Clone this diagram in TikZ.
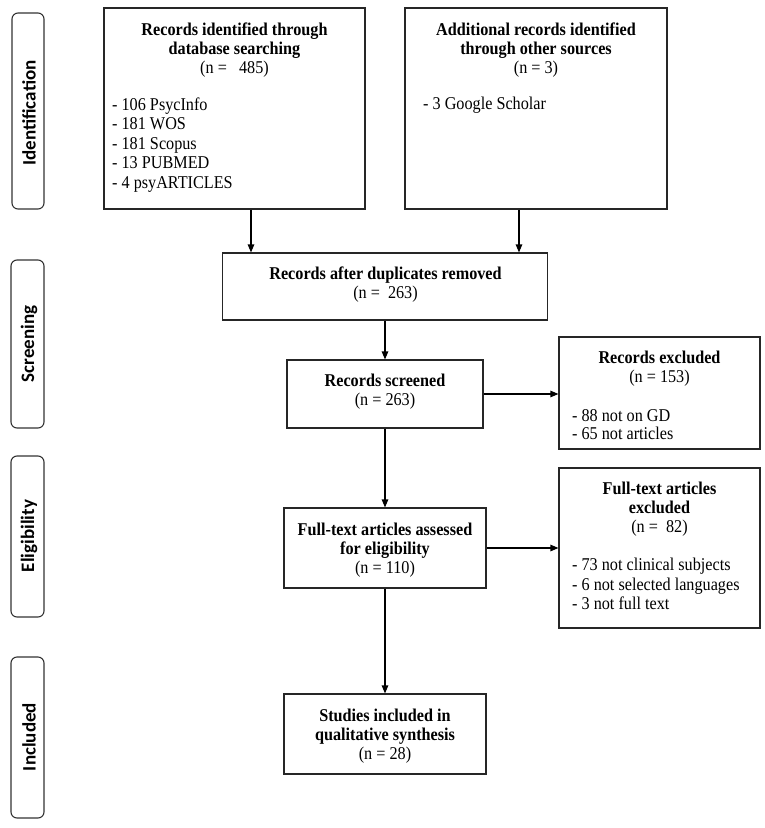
\documentclass[tikz,border=0pt]{standalone}
\usepackage{fontspec}
\setmainfont{Liberation Serif}[FakeStretch=0.9]
\newfontfamily\lanefont{Carlito}
\usetikzlibrary{arrows.meta}
\tikzset{
  box/.style={draw=black!85, line width=1.1pt, inner sep=0pt, rectangle},
  lane/.style={draw=black!80, line width=1.1pt, rounded corners=6pt},
  lanetext/.style={rotate=90, font=\lanefont\bfseries\fontsize{19}{22}\selectfont, inner sep=0pt},
  ttl/.style={align=center, inner sep=0pt, font=\fontsize{18}{19}\selectfont},
  lst/.style={align=left, anchor=west, inner sep=0pt, font=\fontsize{18}{19.5}\selectfont},
  arr/.style={draw=black, line width=1.1pt, -{Triangle[length=8pt,width=6.5pt]}}
}
\begin{document}
\begin{tikzpicture}[x=1pt,y=-1pt]
\useasboundingbox (0,0) rectangle (765,828);
\fill[white] (0,0) rectangle (765,828);
% lanes
\draw[lane] (12,13) rectangle (44,209);
\draw[lane] (11,260) rectangle (44,428);
\draw[lane] (11,456) rectangle (44,617);
\draw[lane] (11,657) rectangle (44,818);
\node[lanetext] (lid) at (29,113) {Identification};
\node[lanetext] (lsc) at (29,344) {Screening};
\node[lanetext] (lel) at (29,536) {Eligibility};
\node[lanetext] (lin) at (29,737) {Included};
% boxes
\node[box, minimum width=261pt, minimum height=201pt] (A) at (234.5,108.5) {};
\node[box, minimum width=262pt, minimum height=201pt] (B) at (536,108.5) {};
\node[box, minimum width=325pt, minimum height=67pt] (C) at (385,286.5) {};
\node[box, minimum width=196pt, minimum height=68pt] (S) at (385,394) {};
\node[box, minimum width=201pt, minimum height=112pt] (RE) at (659.5,393) {};
\node[box, minimum width=202pt, minimum height=80pt] (FA) at (385,548) {};
\node[box, minimum width=201pt, minimum height=160pt] (FE) at (659.5,548) {};
\node[box, minimum width=202pt, minimum height=80pt] (SI) at (385,734) {};
% texts
\node[ttl] (At) at (234.5,50) {\textbf{Records identified through}\\\textbf{database searching}\\(n = \ \ 485)};
\node[lst] (Al) at (112,145) {- 106 PsycInfo\\- 181 WOS\\- 181 Scopus\\- 13 PUBMED\\- 4 psyARTICLES};
\node[ttl] (Bt) at (536,50) {\textbf{Additional records identified}\\\textbf{through other sources}\\(n = 3)};
\node[lst] (Bl) at (423,105) {- 3 Google Scholar};
\node[ttl] (Ct) at (385.5,285) {\textbf{Records after duplicates removed}\\(n = \ 263)};
\node[ttl] (St) at (385,392) {\textbf{Records screened}\\(n = 263)};
\node[ttl] (REt) at (659.5,369) {\textbf{Records excluded}\\(n = 153)};
\node[lst, font=\fontsize{18}{18}\selectfont] (REl) at (572,425) {- 88 not on GD\\- 65 not articles};
\node[ttl] (FEt) at (659.5,509) {\textbf{Full-text articles}\\\textbf{excluded}\\(n = \ 82)};
\node[lst] (FEl) at (572,584) {- 73 not clinical subjects\\- 6 not selected languages\\- 3 not full text};
\node[ttl] (FAt) at (385,550) {\textbf{Full-text articles assessed}\\\textbf{for eligibility}\\(n = 110)};
\node[ttl] (SIt) at (385,736) {\textbf{Studies included in}\\\textbf{qualitative synthesis}\\(n = 28)};
% arrows
\coordinate (xa) at (251,0);
\coordinate (xb) at (519,0);
\draw[arr] (A.south -| xa) -- (C.north -| xa);
\draw[arr] (B.south -| xb) -- (C.north -| xb);
\draw[arr] (C.south) -- (S.north);
\draw[arr] (S.east) -- (RE.west |- S.east);
\draw[arr] (S.south) -- (FA.north);
\draw[arr] (FA.east) -- (FE.west);
\draw[arr] (FA.south) -- (SI.north);
\end{tikzpicture}
\end{document}
